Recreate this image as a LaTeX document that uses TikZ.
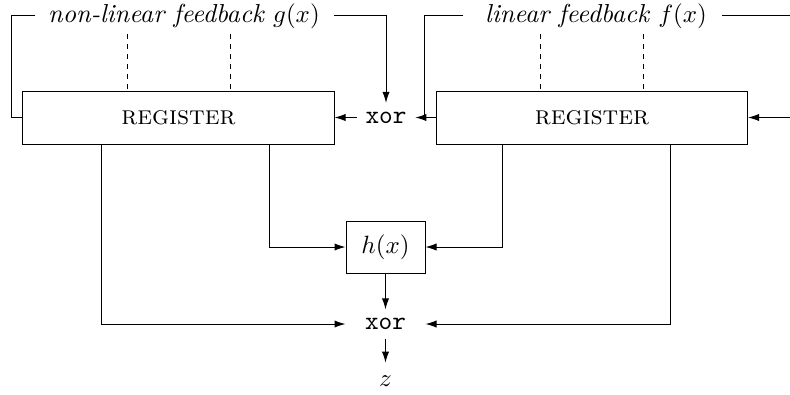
\documentclass[tikz,border=0pt]{standalone}
\usepackage{fontspec}
\usetikzlibrary{arrows.meta}
\begin{document}
\begin{tikzpicture}[x=0.4pt,y=-0.4pt, >={Latex[length=4.4pt,width=2.9pt]},
  line width=0.4pt,
  every node/.style={font=\fontsize{10.4pt}{12.5pt}\selectfont},
  box/.style={draw, rectangle, inner sep=0pt},
  reg/.style={box, minimum width=124.4pt, minimum height=21.2pt, font=\fontsize{10.6pt}{12.5pt}\selectfont\scshape},
  fb/.style={inner sep=0pt, font=\fontsize{10.4pt}{12.5pt}\selectfont\itshape},
  tap/.style={dash pattern=on 2pt off 2pt}]
\useasboundingbox (0,0) rectangle (790,394);
% nodes
\node[reg] (reg1) at (178.5,117.5) {register};
\node[reg] (reg2) at (592,117.5) {register};
\node (xor1) at (386,117.5) {\texttt{xor}};
\node[box, minimum width=31.6pt, minimum height=20.8pt] (h) at (385.5,247) {$h(x)$};
\node[minimum width=31.6pt] (xor2) at (385.5,324) {\texttt{xor}};
\node[inner sep=5pt] (z) at (385.5,381) {$z$};
\node[fb] (g) at (184,16) {non-linear feedback $g(x)$};
\node[fb] (f) at (596,16) {linear feedback $f(x)$};
% helper coordinates
\coordinate (gL) at (35,15);
\coordinate (gR) at (334,15);
\coordinate (cL) at (11,15);
\coordinate (fL) at (463,15);
\coordinate (fC) at (424,15);
\coordinate (fR) at (722,15);
\coordinate (eR) at (790,15);
\coordinate (eR2) at (790,117.5);
\coordinate (d1) at (127,34);
\coordinate (d2) at (230,34);
\coordinate (d3) at (540,34);
\coordinate (d4) at (643,34);
\coordinate (c1) at (101,0);
\coordinate (c2) at (269,0);
\coordinate (c3) at (502,0);
\coordinate (c4) at (670,0);
% feedback loops
\draw (gL) -- (cL) |- (reg1.west);
\draw[->] (gR) -| (xor1.north);
\draw[->] (reg2.west) -- (xor1.east);
\draw (fL) -| (fC |- reg2.west);
\draw (fR) -- (eR);
\draw[->] (eR2) -- (reg2.east);
\draw[->] (xor1.west) -- (reg1.east);
% taps
\draw[tap] (d1) -- (d1 |- reg1.north);
\draw[tap] (d2) -- (d2 |- reg1.north);
\draw[tap] (d3) -- (d3 |- reg2.north);
\draw[tap] (d4) -- (d4 |- reg2.north);
% output network
\draw[->] (c1 |- reg1.south) |- (xor2.west);
\draw[->] (c2 |- reg1.south) |- (h.west);
\draw[->] (c3 |- reg2.south) |- (h.east);
\draw[->] (c4 |- reg2.south) |- (xor2.east);
\draw[->] (h) -- (xor2);
\draw[->] (xor2) -- (z);
\end{tikzpicture}
\end{document}
